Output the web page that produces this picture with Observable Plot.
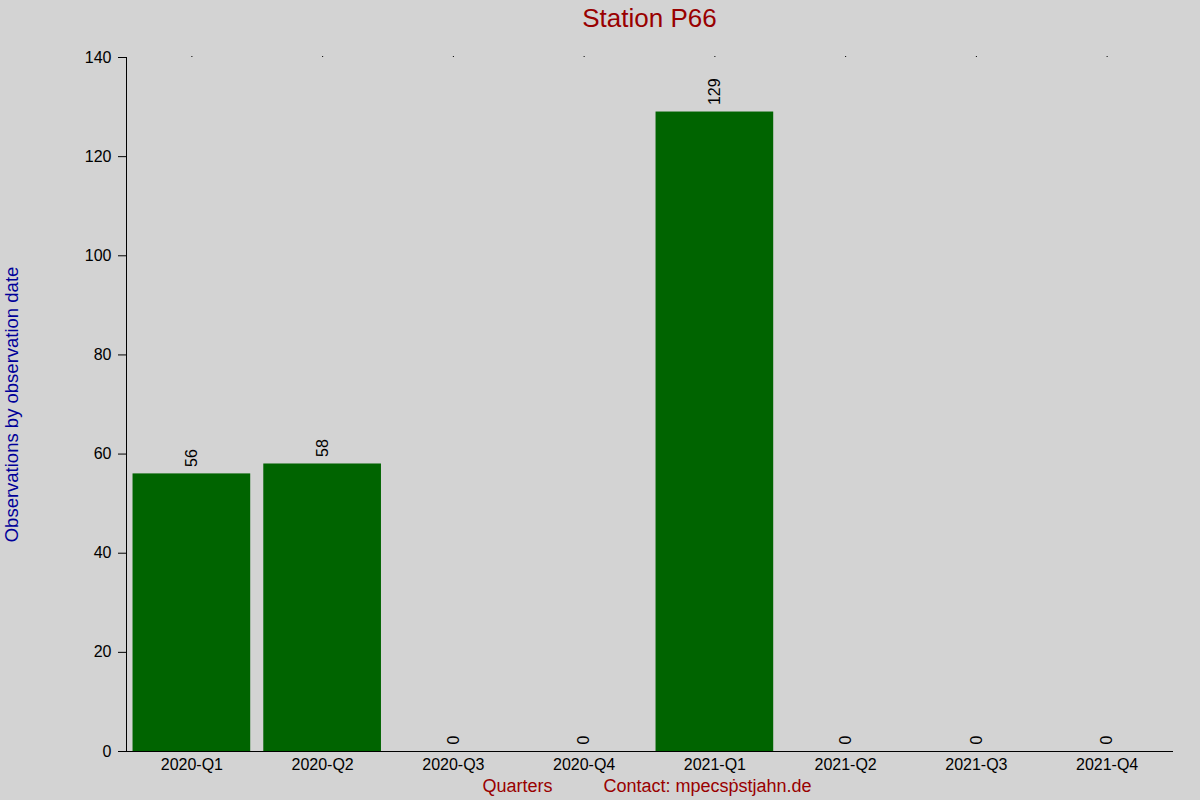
<!DOCTYPE html>
<html>
<head>
<meta charset="utf-8">
<script src="https://cdn.jsdelivr.net/npm/d3@7"></script>
<script src="https://cdn.jsdelivr.net/npm/@observablehq/plot@0.6"></script>
<style>
  html, body { margin: 0; padding: 0; background: #d3d3d3; }
  #chart svg { display: block; }
</style>
</head>
<body>
<div id="chart"></div>
<script>
const quarters = ["2020-Q1", "2020-Q2", "2020-Q3", "2020-Q4", "2021-Q1", "2021-Q2", "2021-Q3", "2021-Q4"];
const counts = [56, 58, 0, 0, 129, 0, 0, 0];
const yTicks = [0, 20, 40, 60, 80, 100, 120, 140];
const title = "Station P66";
const yLabel = "Observations by observation date";
const xLabel = "Quarters";
const contact = "Contact: mpecsṗstjahn.de";

const data = quarters.map((q, i) => ({quarter: q, count: counts[i]}));
const font = "Liberation Sans, Arial, sans-serif";

const chart = Plot.plot({
  width: 1200,
  height: 800,
  marginLeft: 126,
  marginRight: 28,
  marginTop: 57,
  marginBottom: 49,
  style: {background: "#d3d3d3", fontFamily: font, fontSize: "16px", color: "#000"},
  x: {domain: quarters, paddingInner: 0.1, paddingOuter: 0.05, round: false, label: null},
  y: {domain: [0, 140], label: null},
  marks: [
    Plot.barY(data, {x: "quarter", y: "count", fill: "#006400"}),
    Plot.text(data, {x: "quarter", y: "count", text: d => String(d.count), rotate: -90, textAnchor: "start", dy: -7, fontSize: 16, fill: "#000"}),
    Plot.axisY({ticks: yTicks, tickSize: 8, tickPadding: 7, fontSize: 16, label: null}),
    Plot.axisX({anchor: "bottom", tickSize: 0, tickPadding: 7, fontSize: 16, label: null}),
    Plot.axisX({anchor: "top", tickSize: 1, tickFormat: () => "", label: null, dy: -1}),
    Plot.frame({anchor: "left", stroke: "#000"}),
    Plot.frame({anchor: "bottom", stroke: "#000"}),
    Plot.text([title], {frameAnchor: "top", dy: -39, fontSize: 26, fill: "#990000", lineAnchor: "middle"}),
    Plot.text([yLabel], {frameAnchor: "left", dx: -114, rotate: -90, textAnchor: "middle", fontSize: 18.5, fill: "#000099", lineAnchor: "middle"}),
    Plot.text([xLabel], {frameAnchor: "bottom", dx: -132, dy: 35, fontSize: 18, fill: "#990000", lineAnchor: "middle"}),
    Plot.text([contact], {frameAnchor: "bottom", dx: 58, dy: 35, fontSize: 18, fill: "#990000", lineAnchor: "middle"})
  ]
});
document.getElementById("chart").appendChild(chart);
</script>
</body>
</html>
